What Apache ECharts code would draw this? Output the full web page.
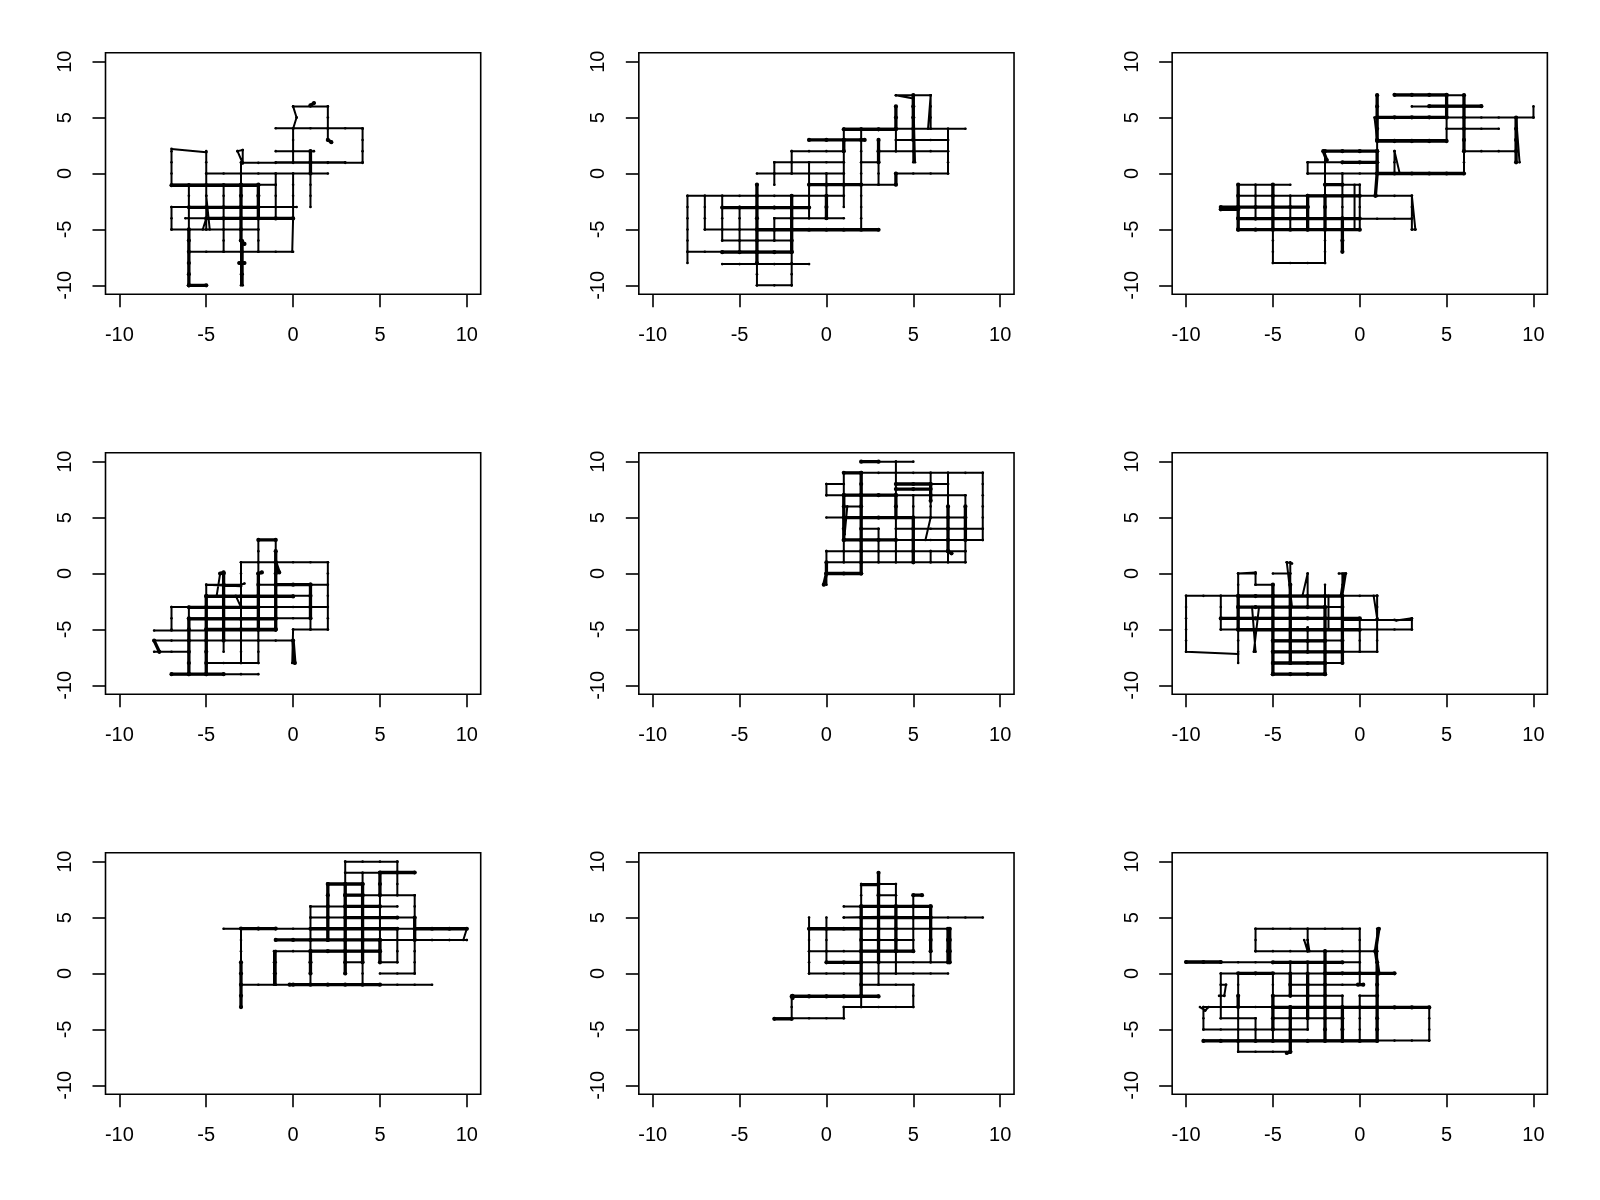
<!DOCTYPE html>
<html><head><meta charset="utf-8">
<style>html,body{margin:0;padding:0;background:#fff}#c{width:1600px;height:1200px}</style>
<script src="https://cdn.jsdelivr.net/npm/echarts@6/dist/echarts.min.js"></script>
</head><body><div id="c"></div>
<script>
const tickValues=[-10,-5,0,5,10];
// H: [y,x0,x1,heavy]  V: [x,y0,y1,heavy]  S: [x0,y0,x1,y1,heavy]
const p1H=[[6,0,2],[4.05,-1,4],[2,-1,1.2],[1,-1,3],[0.95,-3,4],[0,-5,2],[-1,-7,-1],[-1.05,-7,-2,1],[-3,-7,0.2],[-3.02,-6,-2,1],[-4,-6.2,0],[-4.02,-5,0,1],[-5,-7,-2],[-7,-6,0],[-10,-6,-5,1]];
const p1V=[[2,6,3],[4,4,1],[1,2,-3],[1,2,0,1],[-1,0,-4],[0,4,1],[0,0,-4],[-7,2,-1],[-7,-3,-5],[-5,2,-5],[-4,-1,-7],[-3,1,-10],[-3,-1,-6,1],[-2.9,-6,-10],[-2,-1,-7],[-2,-1,-4,1],[-6,-1,-10],[-6,-5,-10,1]];
const p1S=[[0,6,0.2,5],[0.2,5,0,4],[-7,2.2,-5,1.9],[-3.2,2,-2.9,2.1],[-3.2,2,-2.9,0.9],[-2.9,2.1,-2.9,1],[0,-4,-0.05,-7],[1,6.1,1.2,6.3,1],[2,3,2.2,2.8,1],[-3,-6,-2.8,-6.3,1],[-3.1,-8,-2.8,-8,1],[-5,-4,-5.2,-5],[-5,-2,-4.8,-5]];
const p2H=[[7,4,6],[4,1,8],[3.95,1,4,1],[3,-1,2.2,1],[3,4,7],[2,-2,1],[2,3,7],[1,-3,1],[1,2,3],[0,-4,1],[0,4,7],[-1,-1,2,1],[-1,2,4],[-2,-8,1],[-3,-6,-1],[-3.05,-6,-1,1],[-4,-3,1],[-5,-7,3],[-5.03,-4,3,1],[-6,-6,-2],[-7,-8,-2],[-7.03,-6,-2,1],[-8.1,-6,-1],[-10,-4,-2]];
const p2V=[[5,7,1],[5,7,3,1],[6,4,7],[4,6,2],[4,6,4,1],[4,0,-1,1],[7,4,0],[3,3,-1],[3,3,1,1],[2,4,-5],[1,4,-3],[1,3,2,1],[-1,1,-4],[0,0,-4],[0,-2,-4,1],[-2,-2,-10],[-2,-2,-7,1],[-3,1,-1],[-3,-4,-6],[-4,-1,-10],[-4,-1,-8,1],[-5,-3,-7],[-6,-2,-6],[-7,-2,-5],[-8,-2,-8],[-2,2,0]];
const p2S=[[4,7,5,6.7],[5,7,5.1,1],[6,7,5.85,4]];
const p3H=[[7,2,6],[7.03,2,5,1],[6,3,7],[6.02,4,7,1],[5,1,10],[5.02,1,5,1],[4,5,8],[3,1,5],[2.9,1,5,1],[2,6,9],[2,-2,1,1],[1,-3,1],[1,-1,1,1],[0,-3,6],[0,1,6,1],[-1,-7,-4],[-1,-2,0],[-1,-2,-1,1],[-2,-7,3],[-2,-3,0,1],[-3,-8,-3,1],[-3.2,-8,-7,1],[-4,-7,0],[-4.03,-7,0,1],[-4.05,0,3],[-5,-7,0],[-5.02,-7,0,1],[-8,-5,-2]];
const p3V=[[1,7,0],[1,7,3,1],[1,2,0,1],[5,7,3],[5,7,5,1],[6,7,0],[6,7,2,1],[9,5,1],[9,5,1,1],[10,6,5],[2,2,0],[-2,2,-8],[-2,-2,-5,1],[-1,0,-7],[-1,-4,-7,1],[0,-1,-5],[3,-2,-5],[-3,1,0],[-3,-2,-5],[-3,-2,-5,1],[-4,-2,-5],[-5,-1,-8],[-5,-1,-5,1],[-6,-1,-4],[-7,-1,-5],[-7,-1,-5,1]];
const p3S=[[1,0,0.9,-2,1],[1,3,0.85,5,0],[9,5,9.2,1],[2,2,2.3,0],[-2.1,2,-1.9,1.2],[-2.1,2,-1.9,1.2,1],[3,-5,3.2,-5],[3.2,-5,3,-2],[-0.3,-1,-0.3,-5]];
const p4H=[[3,-2,-1,1],[1,-3,2],[-1,-5,-3],[-1,-2,2],[-1,-1,1,1],[-2,-5,1],[-2.05,-5,0,1],[-3,-7,2],[-3.02,-6,-2,1],[-4,-6,1],[-4.05,-6,-1,1],[-5.1,-8,-1],[-5,-5,-1,1],[-5,0,2],[-6,-8,0],[-7,-8,-6],[-8,-5,-2],[-9,-7,-2],[-9,-7,-4,1]];
const p4V=[[-2,3,-8],[-2,0,-5,1],[-1,3,-5],[-1,2,-5,1],[-3,1,-8],[-4,0,-7],[-4,0,-6,1],[-5,-1,-9],[-5,-2,-9,1],[-6,-3,-9],[-6,-4,-9,1],[-7,-3,-5],[1,-1,-5],[1,-1,-4,1],[2,1,-5]];
const p4S=[[-1,1,-0.8,0.1,1],[-2,0,-1.8,0.1,1],[-4.2,0,-4,0.1,1],[-4.2,0,-4.4,-2],[-3.3,-2,-3,-3],[-8,-6,-7.7,-7,1],[0,-5,-0.05,-8],[0,-6,0.1,-8,1],[-5,-1,-3,-1.15],[-3,-1,-2.8,-0.9]];
const p5H=[[10,2,5],[10,2,3,1],[9,1,9],[9,1,2,1],[8,4,7],[8,4,6,1],[8,0,1],[7,0,8],[7,1,4,1],[6,1,2],[5,0,8],[5,1,5,1],[4,2,3],[4,4,9],[3,1,9],[3,1,4,1],[2,0,2],[2,2,8],[1,0,8],[0,0,2,1],[7.55,4,6,1]];
const p5V=[[0,8,7],[0,2,-1],[0,1,0,1],[1,9,1],[1,7,3,1],[2,9,0],[2,9,0,1],[3,4,1],[4,10,1],[4,7,5,1],[5,7,1],[5,5,1,1],[6,9,5],[6,8,6.5,1],[6,2,1],[7,9,1],[7,6,2,1],[8,7,1],[8,6,3,1],[9,9,3]];
const p5S=[[6,5,5.7,3],[0,0,-0.15,-1,1],[7,2,7.2,1.8,1],[1.2,6,1.05,3.5]];
const p6H=[[0,-7,-6],[0,-5,-4],[-1,-6,-5],[-2,-10,1],[-2.02,-7,-1,1],[-3,-7,-1],[-3,-7,-2,1],[-4,-8,0],[-4.02,-8,0,1],[-4.15,-1,3],[-5,-8,3],[-5.03,-7,0,1],[-6,-5,-1],[-6.03,-5,-2,1],[-7,-5,1],[-7,-5,-1,1],[-8,-5,-1],[-8,-5,-2,1],[-9,-5,-2],[-9,-5,-2,1]];
const p6V=[[-10,-2,-7],[-8,-2,-5],[-7,0,-8],[-7,-2,-5,1],[-5,-1,-9],[-5,-1,-9,1],[-4,1,-8],[-4,-1,-8,1],[-3,-4.8,-7],[-2,-1,-9],[-2,-3,-9,1],[-1,0,-8],[-1,-2,-8,1],[0,-4,-7],[1,-2,-7],[-1.8,-2,-5],[3,-4,-5]];
const p6S=[[-10,-7,-7,-7.2],[-7,0,-6,0.1],[-6,0,-6,-1],[-6.2,-3,-6,-7],[-5.8,-3,-6.1,-7],[-4.2,1,-3.9,0.9],[-4.2,1,-3.9,-3],[-3,0,-3.3,-2],[-3,0,-3,-3],[-0.9,0,-1.1,-2],[-1.2,0,-0.8,0],[-0.8,0,-1,-2],[0.8,-2,1,-4],[1,-2,1,-4],[3,-4,2.1,-4.2]];
const p7H=[[10,3,6],[9,3,7],[9.03,5,7,1],[8,2,4,1],[7,3,7],[7,3,4,1],[6,1,6],[6,3,5,1],[5,1,7],[5,3,6,1],[4,-4,10],[4.02,-3,-1,1],[4,1,6,1],[4,7,10,1],[3,-1,10],[3,-1,5,1],[3,7,10],[2,-1,5],[2,1,5,1],[1,3,4],[1,5,6],[0,5,7],[-1,-3,8],[-1,-0.2,5,1]];
const p7V=[[-3,4,-3],[-3,1,-3,1],[-1.1,2,-1],[-1,2,-1],[1,6,-1],[1,2,0,1],[2,8,3],[2,8,3,1],[3,10,0],[3,8,0,1],[4,9,-1],[4,8,1,1],[5,9,1],[5,9,7,1],[5,3,1,1],[6,10,7],[6,4,1],[7,7,0],[7,5,3,1]];
const p7S=[[10,4,9.8,3]];
const p8H=[[8,2,4],[7,3,4],[7,5,5.5,1],[6,1,6],[6,2,6,1],[5,1,9],[5,2,6,1],[4,-1,7],[4,-1,2,1],[3,4,5],[3,2,4],[2,-1,5],[2,2,5,1],[1,0,7],[1,0,2,1],[0,-1,7],[-1,2,5],[-2,-2,3],[-2.05,-2,3,1],[-3,1,5],[-4,-3,1],[-4.05,-3,-2,1]];
const p8V=[[3,9,-1],[3,9,1,1],[2,8,-3],[2,6,-2,1],[4,8,0],[4,6,2,1],[5,7,2],[6,6,1],[6,6,2,1],[7,4,1],[7,4,1,1],[7.1,4,1,1],[-1,5,0],[0,5,1],[5,-1,-3],[1,-3,-4],[-2,-2,-4],[-1.95,-2,-2.2,1]];
const p8S=[[2,7.9,3,7.9],[1,5,4,5.1]];
const p9H=[[4,-6,0],[2,-6,1],[1,-10,0],[1.03,-10,-8,1],[1,-5,-1,1],[0,-8,2],[0.02,-7,-5,1],[0.02,-2,2,1],[-1,-4,0],[-2,-5,-1],[-2,0,1],[-3,-9,4],[-3.03,-5,4,1],[-4,-8,-6],[-4,-5,-1],[-5,-9,-3],[-6,-9,4],[-6.03,-9,1,1],[-7,-7,-4]];
const p9V=[[1,4,-6],[1,1,-6,1],[0,4,-1],[0,-2,-6],[-6,4,2],[-6,-4,-6],[-3,4,2],[-3,1,-5],[-3,0,-4,1],[-2,2,-6],[-2,2,-6,1],[-1,-2,-6],[-1,-3,-6,1],[-4,-3,-7],[-4,-3,-7,1],[-4,1,-2],[-4,0,-2,1],[-5,0,-6],[-5,-2,-5,1],[-7,0,-7],[-7,-2,-3,1],[-8,0,-4],[-9,-3,-5],[4,-3,-6]];
const p9S=[[-8,-1,-7.7,-1],[-7.7,-1,-7.8,-2],[-8.1,-2,-7.8,-2],[-9.2,-3,-8.9,-3.3],[-8.9,-3.3,-8.7,-3],[-3,3,-2.9,2],[-3.2,3,-3,2],[-0.1,-1,0.2,-1,1],[-4,-7,-4.2,-7.1,1],[1.1,4,0.9,2,1],[0.9,2,1.1,0,1]];

const panels=[[p1H,p1V,p1S],[p2H,p2V,p2S],[p3H,p3V,p3S],[p4H,p4V,p4S],[p5H,p5V,p5S],[p6H,p6V,p6S],[p7H,p7V,p7S],[p8H,p8V,p8S],[p9H,p9V,p9S]];

// a run passes through every whole-number lattice node between its ends
function nodes(a,b){
  const s=a<b?1:-1,out=[a];
  for(let v=Math.ceil(Math.min(a,b));v<=Math.floor(Math.max(a,b));v++){if(v!==a&&v!==b)out.push(v);}
  if(s<0)out.splice(1,out.length-1,...out.slice(1).reverse());
  out.push(b);
  return out;
}
function pathData(p,heavy){
  const out=[],hv=h=>(!!h)===heavy;
  p[0].forEach(r=>{if(hv(r[3])){nodes(r[1],r[2]).forEach(x=>out.push([x,r[0]]));out.push([null,null]);}});
  p[1].forEach(r=>{if(hv(r[3])){nodes(r[1],r[2]).forEach(y=>out.push([r[0],y]));out.push([null,null]);}});
  p[2].forEach(r=>{if(hv(r[4]))out.push([r[0],r[1]],[r[2],r[3]],[null,null]);});
  return out;
}
const grid=[],xAxis=[],yAxis=[],series=[];
const font='"Liberation Sans",Arial,sans-serif';
panels.forEach((p,i)=>{
  const c=i%3,r=Math.floor(i/3);
  grid.push({left:105.5+533.33*c,top:52.7+400*r,width:375.2,height:241.6,show:true,borderColor:'#000',borderWidth:1.6,backgroundColor:'#fff',containLabel:false});
  const ax={min:-10.8,max:10.8,gridIndex:i,splitLine:{show:false},minorTick:{show:false},
    axisLine:{show:false,onZero:false},
    axisTick:{show:true,length:13,inside:false,customValues:tickValues,lineStyle:{color:'#000',width:1.6}}};
  xAxis.push(Object.assign({type:'value',position:'bottom'},ax,{axisLabel:{show:true,customValues:tickValues,margin:31,fontSize:20,color:'#000',fontFamily:font,hideOverlap:false}}));
  yAxis.push(Object.assign({type:'value',position:'left'},ax,{axisLabel:{show:true,customValues:tickValues,rotate:90,margin:30,fontSize:20,color:'#000',fontFamily:font,align:'center',verticalAlign:'bottom',hideOverlap:false}}));
  [[false,2,2.6],[true,3.3,4.2]].forEach(([h,w,s])=>series.push({type:'line',xAxisIndex:i,yAxisIndex:i,data:pathData(p,h),connectNulls:false,showSymbol:true,showAllSymbol:true,symbol:'circle',symbolSize:s,itemStyle:{color:'#000'},lineStyle:{color:'#000',width:w,cap:'round',join:'round'},silent:true,clip:false,animation:false,z:h?3:2}));
});
const chart=echarts.init(document.getElementById('c'),null,{renderer:'canvas'});
chart.setOption({animation:false,backgroundColor:'#fff',tooltip:{show:false},grid,xAxis,yAxis,series});
</script></body></html>
